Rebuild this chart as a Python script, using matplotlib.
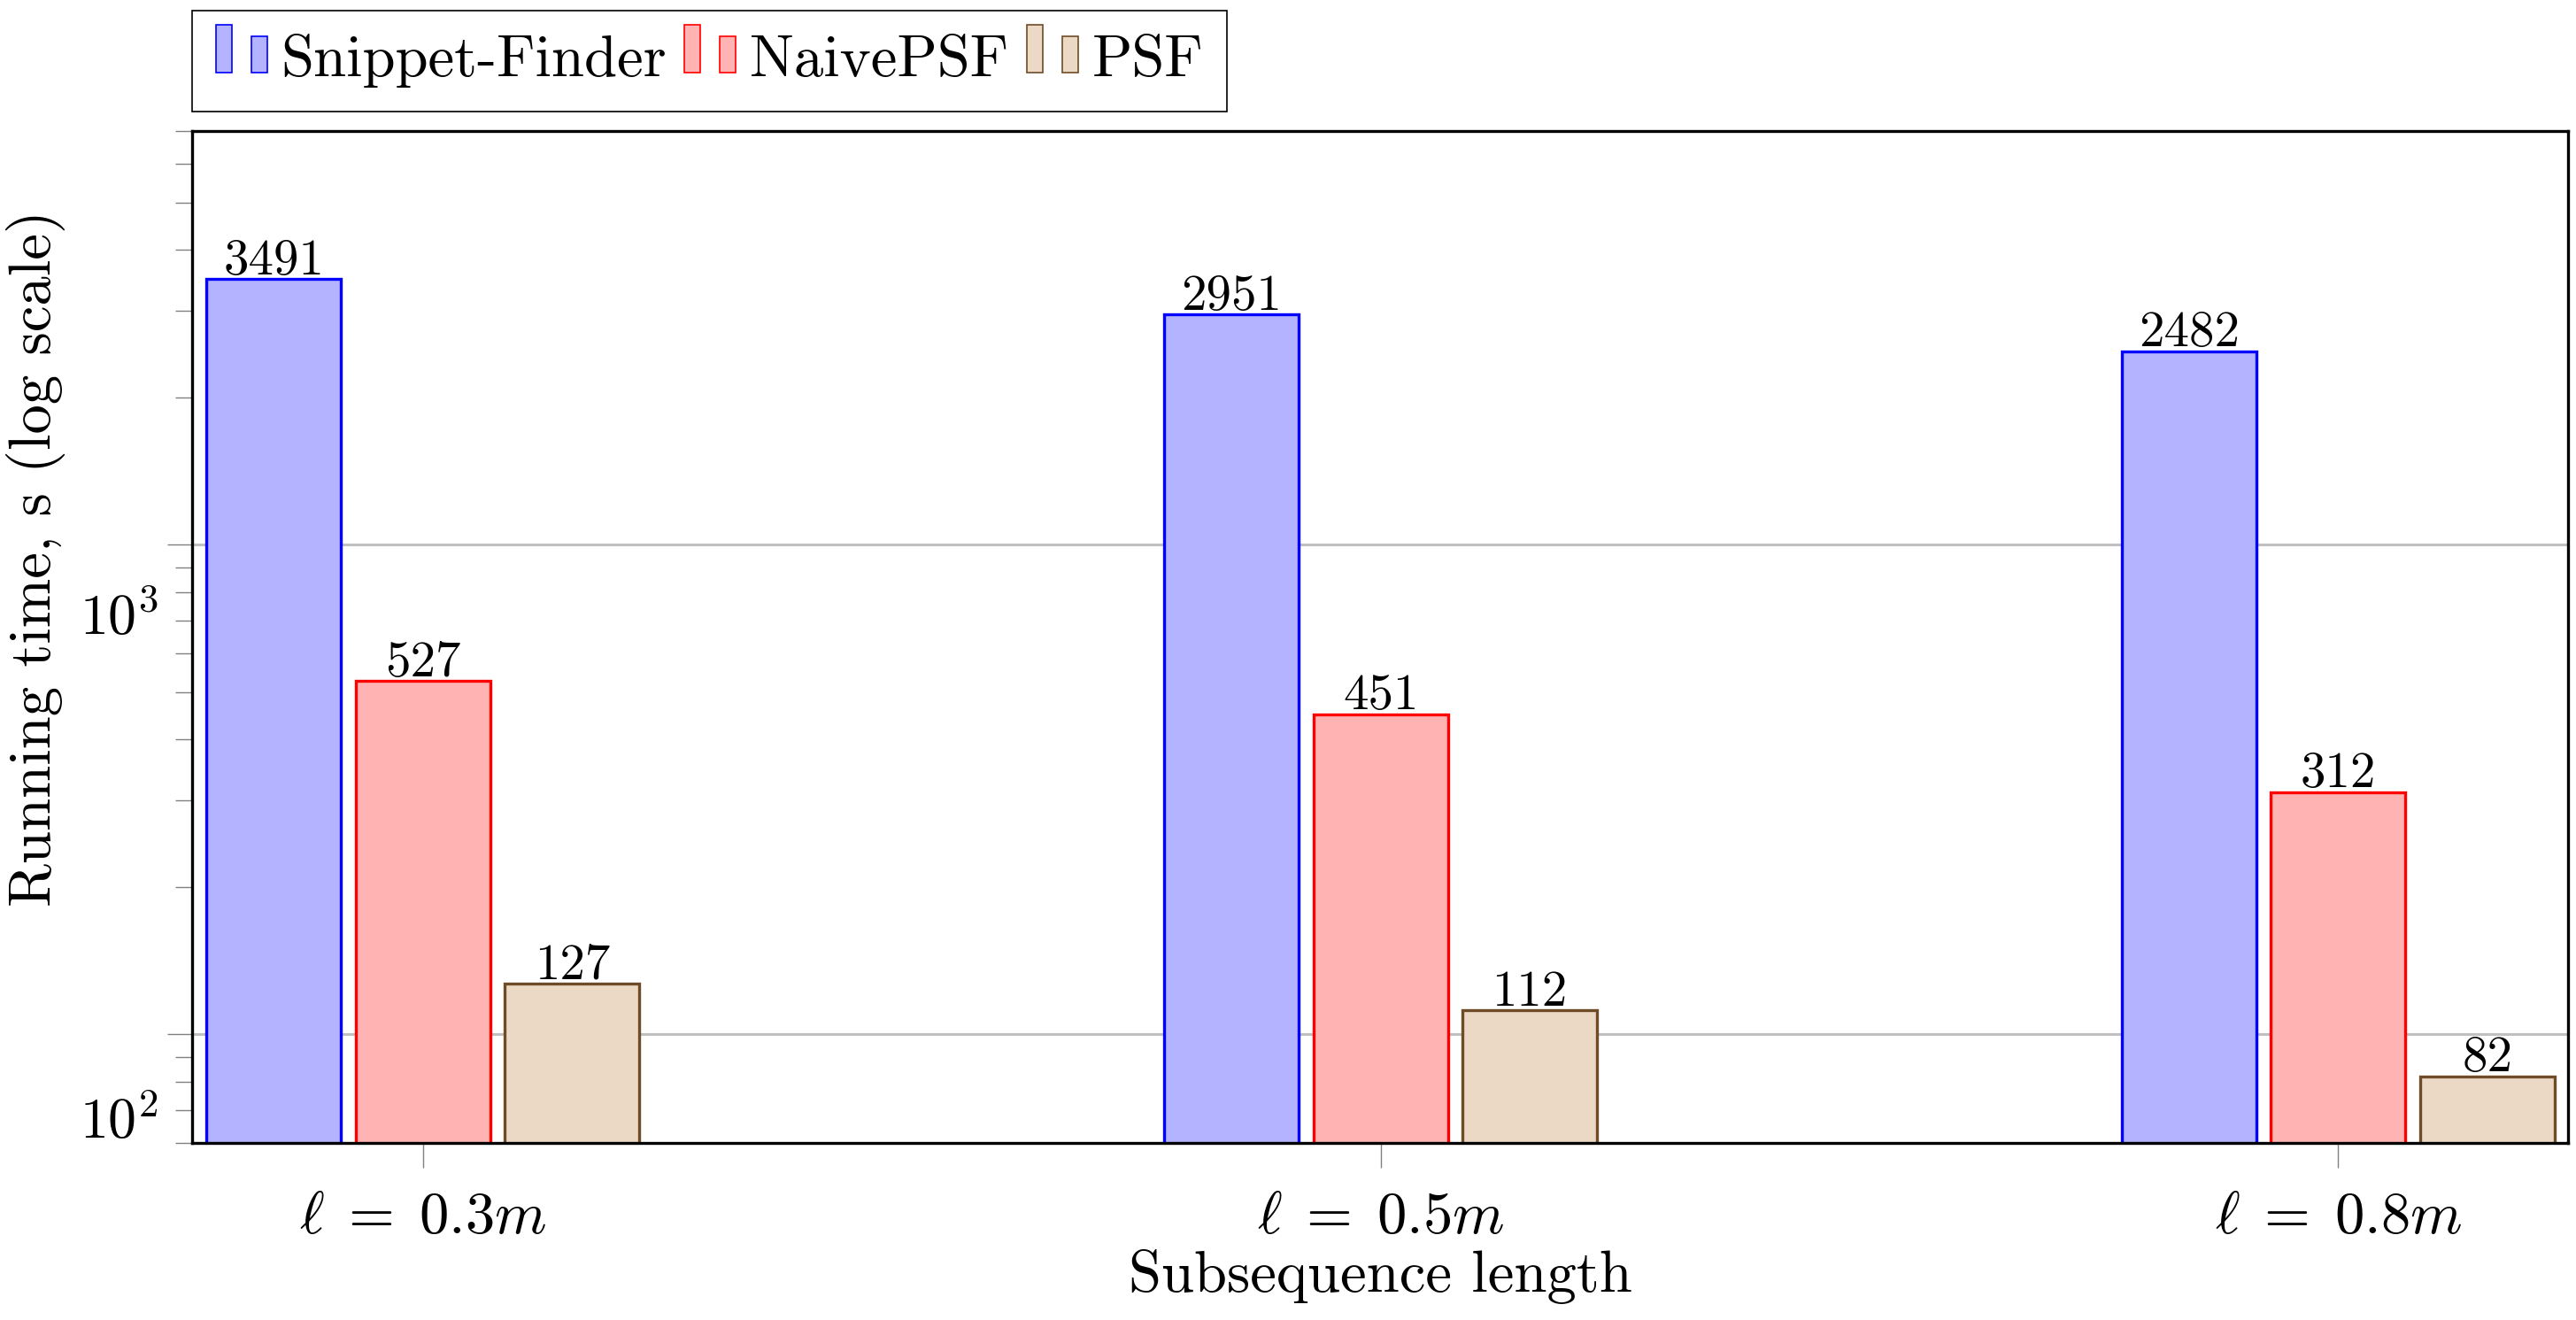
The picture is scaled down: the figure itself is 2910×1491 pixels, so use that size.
import numpy as np
import matplotlib
matplotlib.use('Agg')
import matplotlib.pyplot as plt
from matplotlib.patches import Rectangle
from matplotlib.legend_handler import HandlerBase
from matplotlib.ticker import LogLocator, NullFormatter
from matplotlib.transforms import ScaledTranslation

plt.rcParams['mathtext.fontset'] = 'cm'
plt.rcParams['font.family'] = 'cmr10'
plt.rcParams['axes.formatter.use_mathtext'] = True

# data
categories = [r'$\ell\;=\;0.3m$', r'$\ell\;=\;0.5m$', r'$\ell\;=\;0.8m$']
methods = ['Snippet-Finder', 'NaivePSF', 'PSF']
snippet_finder = [3491, 2951, 2482]
naive_psf = [527, 451, 312]
psf = [127, 112, 82]
series = [snippet_finder, naive_psf, psf]

fills = ['#b3b3ff', '#ffb3b3', '#ebd9c5']
edges = ['#0000ff', '#ff0000', '#6f4b27']


class TwoBarHandler(HandlerBase):
    # pgfplots-style ybar legend image: two little bars
    def create_artists(self, legend, orig_handle, xdescent, ydescent,
                       width, height, fontsize, trans):
        w = width * 0.31
        y0 = -ydescent + 0.1 * height
        kw = dict(facecolor=orig_handle.get_facecolor(),
                  edgecolor=orig_handle.get_edgecolor(),
                  linewidth=0.6, transform=trans)
        tall = Rectangle((-xdescent, y0), w, height * 1.16, **kw)
        short = Rectangle((-xdescent + width - w, y0), w, height * 0.88, **kw)
        return [tall, short]


fig = plt.figure(figsize=(14.55, 7.455), dpi=200)
ax = fig.add_axes([0.07457, 0.13414, 0.92234, 0.7666])

x = np.arange(len(categories))
bw = 0.1405
off = 0.1557
handles = []
for i, (vals, name) in enumerate(zip(series, methods)):
    bars = ax.bar(x + (i - 1) * off, vals, width=bw, color=fills[i],
                  edgecolor=edges[i], linewidth=1.2, zorder=2, label=name)
    handles.append(bars.patches[0])
    for xi, v in zip(x + (i - 1) * off, vals):
        ax.annotate(str(v), xy=(xi, v), xytext=(0, 2), textcoords='offset points',
                    ha='center', va='baseline', fontsize=20.5, zorder=3)

ax.set_yscale('log')
ax.set_ylim(60, 7000)
ax.set_xlim(-0.2412, 2.240)
ax.set_yticks([100, 1000], [r'$10^{2}$', r'$10^{3}$'])
ax.yaxis.set_minor_locator(LogLocator(base=10, subs=np.arange(2, 10)))
ax.yaxis.set_minor_formatter(NullFormatter())
ax.set_xticks(x, categories)

ax.tick_params(axis='y', which='major', direction='out', length=10, width=0.5,
               color='#808080', pad=3.6, labelsize=23)
ax.tick_params(axis='y', which='minor', direction='out', length=7, width=0.5,
               color='#808080')
ax.tick_params(axis='x', which='major', direction='out', length=10, width=0.5,
               color='#808080', pad=10, labelsize=24)

# tick labels sit a bit below their ticks in the original
for tick, dy in zip(ax.yaxis.get_major_ticks(), [34, 28]):
    tick.label1.set_transform(tick.label1.get_transform() +
                              ScaledTranslation(0, -dy / 72, fig.dpi_scale_trans))

ax.yaxis.grid(True, which='major', color='#c0c0c0', linewidth=1.1)
ax.set_axisbelow(True)
for s in ax.spines.values():
    s.set_linewidth(1.2)
    s.set_color('black')

ax.set_xlabel('Subsequence length', fontsize=24)
ax.set_ylabel('Running time, s (log scale)', fontsize=24)
ax.xaxis.set_label_coords(0.5, -0.105)
ax.yaxis.set_label_coords(-0.0533, 0.5774)

leg = ax.legend(handles, methods, handler_map={Rectangle: TwoBarHandler()},
                loc='lower left', bbox_to_anchor=(0, 1.0192), borderaxespad=0,
                ncol=3, fontsize=24, frameon=True, fancybox=False,
                edgecolor='black', framealpha=1, borderpad=0.4,
                handlelength=0.87, handleheight=0.7, handletextpad=0.24,
                columnspacing=0.3)
leg.get_frame().set_linewidth(0.6)

fig.savefig('out.png', dpi=200)
